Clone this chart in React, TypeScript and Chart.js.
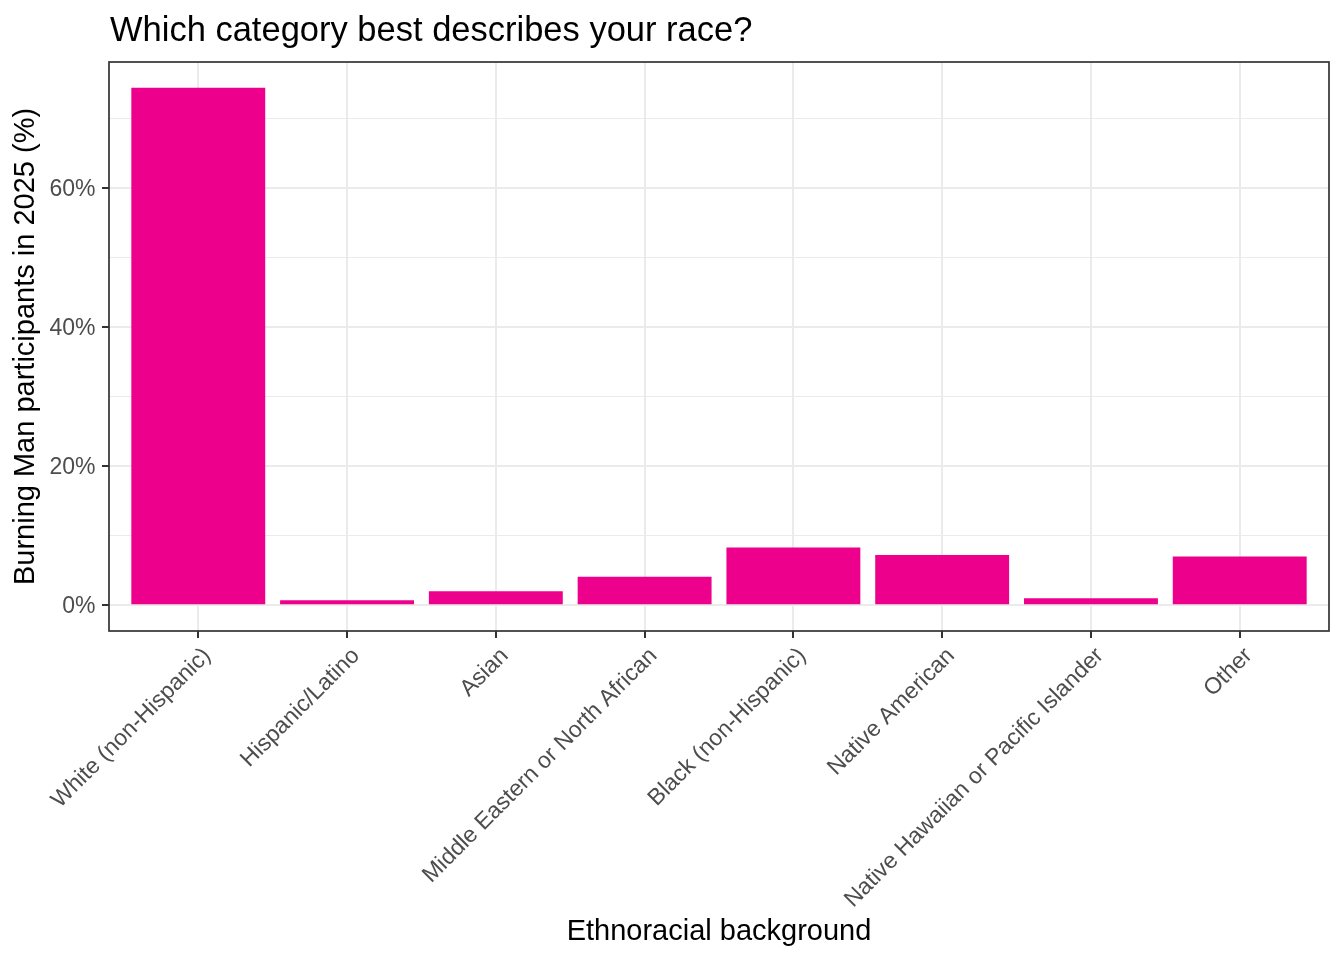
import React, { useEffect, useRef } from 'react';
import { Chart, registerables } from 'chart.js';

Chart.register(...registerables);

// categories and shares (%)
const categories = [
    'White (non-Hispanic)',
    'Hispanic/Latino',
    'Asian',
    'Middle Eastern or North African',
    'Black (non-Hispanic)',
    'Native American',
    'Native Hawaiian or Pacific Islander',
    'Other',
];
const shares = [74.4, 0.7, 2.0, 4.1, 8.3, 7.2, 1.0, 7.0];

// y grid: majors get a label, minors only a thin line
const yTickValues = [0, 10, 20, 30, 40, 50, 60, 70];
const yMajorTicks = [0, 20, 40, 60];

const TITLE = 'Which category best describes your race?';
const X_TITLE = 'Ethnoracial background';
const Y_TITLE = 'Burning Man participants in 2025 (%)';

const Y_MIN = -3.72;
const Y_MAX = 78.12;

const FONT = '"Liberation Sans", Arial, sans-serif';
const BAR_COLOR = '#EC008C';
const GRID_COLOR = '#EBEBEB';
const AXIS_COLOR = '#333333';
const TEXT_COLOR = '#4D4D4D';

// draws the title at the panel's left edge and the panel border (theme_bw look)
const panelPlugin = {
    id: 'panelPlugin',
    afterDraw(chart: any) {
        const { ctx, chartArea } = chart;
        ctx.save();
        ctx.strokeStyle = AXIS_COLOR;
        ctx.lineWidth = 1.7;
        ctx.strokeRect(chartArea.left, chartArea.top, chartArea.right - chartArea.left, chartArea.bottom - chartArea.top);
        ctx.fillStyle = '#000000';
        ctx.font = `34.5px ${FONT}`;
        ctx.textAlign = 'left';
        ctx.textBaseline = 'alphabetic';
        ctx.fillText(TITLE, chartArea.left + 1, 40.5);
        ctx.restore();
    },
};

const RaceChart: React.FC = () => {
    const chartRef = useRef<HTMLCanvasElement | null>(null);

    useEffect(() => {
        document.body.style.margin = '0';
        const ctx = chartRef.current?.getContext('2d');
        if (!ctx) {
            return;
        }

        const myChart = new Chart(ctx, {
            type: 'bar',
            data: {
                datasets: [
                    {
                        data: categories.map((c, i) => ({ x: i + 1, y: shares[i] })),
                        backgroundColor: BAR_COLOR,
                        borderWidth: 0,
                        barPercentage: 0.9,
                        categoryPercentage: 1.0,
                    },
                ],
            },
            options: {
                responsive: false,
                animation: false,
                layout: {
                    padding: { top: 62, right: 15, bottom: 0, left: 0 },
                },
                plugins: {
                    legend: { display: false },
                    tooltip: { enabled: false },
                    title: { display: false },
                },
                scales: {
                    x: {
                        type: 'linear',
                        min: 0.4,
                        max: 8.6,
                        offset: false,
                        afterBuildTicks: (scale: any) => {
                            scale.ticks = categories.map((c, i) => ({ value: i + 1 }));
                        },
                        afterFit: (scale: any) => {
                            scale.height = 329;
                        },
                        border: { display: false },
                        grid: {
                            offset: false,
                            color: GRID_COLOR,
                            lineWidth: 2,
                            drawTicks: true,
                            tickLength: 7,
                            tickColor: AXIS_COLOR,
                            tickWidth: 2,
                        },
                        ticks: {
                            autoSkip: false,
                            minRotation: 45,
                            maxRotation: 45,
                            padding: 6,
                            labelOffset: 9,
                            color: TEXT_COLOR,
                            font: { family: FONT, size: 23, lineHeight: 1 },
                            callback: (value: any) => categories[Number(value) - 1] ?? '',
                        },
                        title: {
                            display: true,
                            text: X_TITLE,
                            color: '#000000',
                            font: { family: FONT, size: 29, lineHeight: 1.2 },
                            padding: { top: 0, bottom: 10.8 },
                        },
                    },
                    y: {
                        type: 'linear',
                        min: Y_MIN,
                        max: Y_MAX,
                        afterBuildTicks: (scale: any) => {
                            scale.ticks = yTickValues.map((v) => ({ value: v }));
                        },
                        afterFit: (scale: any) => {
                            scale.width = 109;
                        },
                        border: { display: false },
                        grid: {
                            color: GRID_COLOR,
                            lineWidth: (c: any) => (yMajorTicks.includes(c.tick?.value) ? 2 : 1),
                            drawTicks: true,
                            tickLength: 7,
                            tickColor: (c: any) => (yMajorTicks.includes(c.tick?.value) ? AXIS_COLOR : 'rgba(0,0,0,0)'),
                            tickWidth: 2,
                        },
                        ticks: {
                            padding: 6.5,
                            labelOffset: 2,
                            color: TEXT_COLOR,
                            font: { family: FONT, size: 23 },
                            callback: (value: any) => (yMajorTicks.includes(Number(value)) ? `${value}%` : ''),
                        },
                        title: {
                            display: true,
                            text: Y_TITLE,
                            color: '#000000',
                            font: { family: FONT, size: 29, lineHeight: 1.2 },
                            padding: { top: 8.4, bottom: 0 },
                        },
                    },
                },
            },
            plugins: [panelPlugin],
        });

        return () => {
            myChart.destroy(); // Cleanup chart on unmount
        };
    }, []);

    return (
        <div style={{ width: 1344, height: 960, background: '#ffffff' }}>
            <canvas ref={chartRef} width={1344} height={960} />
        </div>
    );
};

export default function App() {
    return <RaceChart />;
}
